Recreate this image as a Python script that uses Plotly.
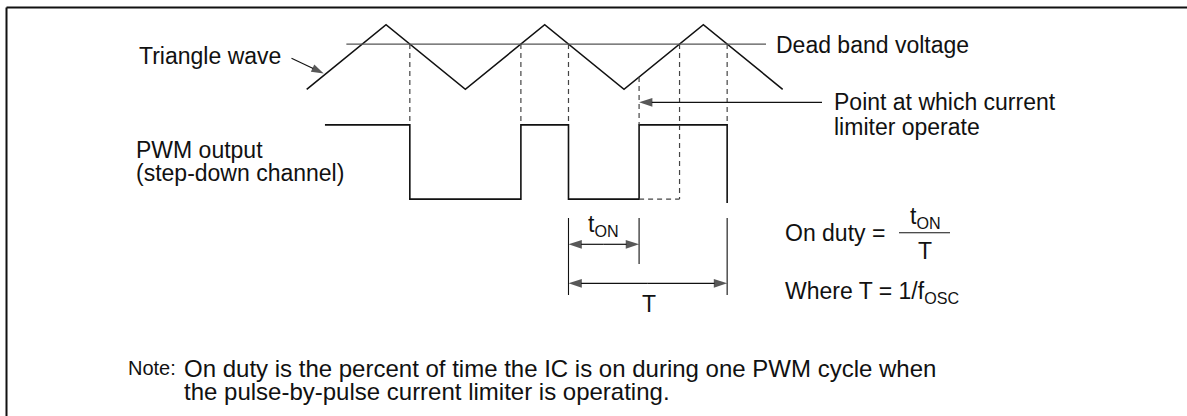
import plotly.graph_objects as go

# ---------------- data (time in half-periods of the triangle, level: trough=0, peak=1)
tri_t = [0, 1, 2, 3, 4, 5, 6]
tri_v = [0, 1, 0, 1, 0, 1, 0]
dead_band = 0.70
dead_band_span = [0.50, 5.79]
limit_t = 4.19            # point at which the current limiter operates
pwm_start = 0.23
pwm_high = -0.55
pwm_low = -1.70

labels_left = ["Triangle wave", "Dead band voltage", "Point at which current",
               "limiter operate", "PWM output", "(step-down channel)"]
note_lines = ["On duty is the percent of time the IC is on during one PWM cycle when",
              "the pulse-by-pulse current limiter is operating."]

# ---------------- derived crossings of the triangle with the dead band level
peaks = [t for t, v in zip(tri_t, tri_v) if v == 1]
troughs = [t for t, v in zip(tri_t, tri_v) if v == 0]
fall_x = [p + (1 - dead_band) for p in peaks]
rise_x = [tr + dead_band for tr in troughs if tr + dead_band < tri_t[-1]]
limit_v = limit_t - 4  # on the rising slope that starts at the trough t=4

# ---------------- pixel mapping (layout only)
W, H = 1187, 416
X0, XU = 306.7, 79.33   # px of t=0, px per unit
Y0, YU = 89.3, 64.6     # px of level 0, px per unit
def dx(pxv):
    return (pxv - X0) / XU
def dy(py):
    return (Y0 - py) / YU
def px(x):
    return x / W
def pyp(y):
    return 1 - y / H

BLACK = "#111111"
GRAY = "#555555"
DGRAY = "#444444"
FONT = "Liberation Sans, Arial, Helvetica, sans-serif"
FS = 23

fig = go.Figure()

def line(xs, ys, color=BLACK, width=1.5, dash=None):
    fig.add_trace(go.Scatter(x=xs, y=ys, mode="lines", hoverinfo="skip",
                             line=dict(color=color, width=width, dash=dash)))

def arrow(xs, ys, width=1.2, size=14):
    # arrowhead at the last point, pointing along the segment direction
    fig.add_trace(go.Scatter(x=xs, y=ys, mode="lines+markers", hoverinfo="skip",
                             line=dict(color=BLACK, width=width),
                             marker=dict(symbol="arrow", angleref="previous",
                                         size=[0] * (len(xs) - 1) + [size],
                                         color=BLACK, line=dict(width=0))))

# triangle wave
line(tri_t, tri_v, width=1.6)
# dead band level
line(dead_band_span, [dead_band, dead_band], color=GRAY, width=1.2)

# PWM output waveform
edges = [fall_x[0], rise_x[1], fall_x[1], limit_t, fall_x[2]]
pwm_x = [pwm_start]
pwm_y = [pwm_high]
level = pwm_high
for e in edges:
    pwm_x += [e, e]
    nxt = pwm_low if level == pwm_high else pwm_high
    pwm_y += [level, nxt]
    level = nxt
pwm_y[-1] = pwm_low + dy(203) - dy(199)
line(pwm_x, pwm_y, width=1.6)

# dashed projection lines
DASH = "5px,4px"
for xv in [fall_x[0], rise_x[1], fall_x[1], fall_x[2]]:
    line([xv, xv], [dead_band, pwm_high], color=DGRAY, width=1.2, dash=DASH)
line([rise_x[2], rise_x[2]], [dead_band, pwm_low], color=DGRAY, width=1.2, dash=DASH)
line([limit_t, limit_t], [limit_v, pwm_high], color=DGRAY, width=1.2, dash=DASH)
line([limit_t, rise_x[2]], [pwm_low, pwm_low], color=DGRAY, width=1.2, dash=DASH)

# dimension extension lines
ext_top = dy(218)
for xv, bot in [(fall_x[1], dy(295)), (limit_t, dy(264)), (fall_x[2], dy(295))]:
    line([xv, xv], [ext_top, bot], width=1.1)

# dimension arrows (double headed)
for x1, x2, yv in [(fall_x[1], limit_t, dy(244.3)), (fall_x[1], fall_x[2], dy(283.3))]:
    mid = (x1 + x2) / 2
    arrow([mid, x1], [yv, yv])
    arrow([mid, x2], [yv, yv])
# current limiter pointer
arrow([dx(822), limit_t], [dy(102.3), dy(102.3)])
# triangle wave pointer
arrow([dx(291.5), 0.215], [dy(58.3), 0.245], width=1.1, size=13)

ann = []
def txt(s, x, y, xanchor="left", size=FS, family=FONT):
    ann.append(dict(text=s, x=px(x), y=pyp(y), xref="paper", yref="paper",
                    showarrow=False, xanchor=xanchor, yanchor="middle",
                    font=dict(family=family, size=size, color=BLACK)))

txt(labels_left[0], 137, 56)
txt(labels_left[1], 774, 45)
txt(labels_left[2], 832, 102)
txt(labels_left[3], 832, 127)
txt(labels_left[4], 134, 150)
txt(labels_left[5], 134, 173)

txt("t<sub>ON</sub>", 604, 226, "center")
txt("T", 649, 304, "center")

txt("On duty =", 783, 233)
txt("t<sub>ON</sub>", 925, 217, "center")
txt("T", 925, 251, "center")
txt("Where T = 1/f<sub>OSC</sub>", 783, 292)

txt("Note:", 178, 368, "right", size=20)
txt(note_lines[0], 182, 368, size=24)
txt(note_lines[1], 182, 391, size=24)

shapes = [
    dict(type="line", xref="paper", yref="paper", x0=px(899), x1=px(950),
         y0=pyp(232.7), y1=pyp(232.7), line=dict(color=BLACK, width=1.1)),
    dict(type="line", xref="paper", yref="paper", x0=px(6.5), x1=1,
         y0=pyp(7.5), y1=pyp(7.5), line=dict(color=BLACK, width=2)),
    dict(type="line", xref="paper", yref="paper", x0=px(6.5), x1=px(6.5),
         y0=pyp(7.5), y1=0, line=dict(color=BLACK, width=2)),
]

fig.update_layout(
    width=W, height=H, margin=dict(l=0, r=0, t=0, b=0),
    paper_bgcolor="white", plot_bgcolor="white", showlegend=False,
    xaxis=dict(range=[dx(0), dx(W)], visible=False, fixedrange=True),
    yaxis=dict(range=[dy(H), dy(0)], visible=False, fixedrange=True),
    annotations=ann, shapes=shapes,
)

fig.write_html("out.html", config={"displayModeBar": False},
               post_script="document.body.style.margin='0';")
